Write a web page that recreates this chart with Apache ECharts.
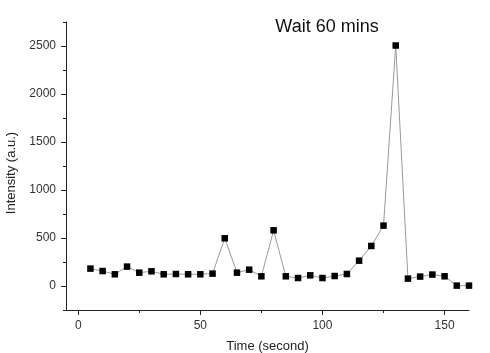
<!DOCTYPE html>
<html><head><meta charset="utf-8">
<script src="https://cdn.jsdelivr.net/npm/echarts@6/dist/echarts.min.js"></script>
<style>html,body{margin:0;padding:0;background:#fff}#c{width:490px;height:353px}</style>
</head><body><div id="c"></div>
<script>
const times = [5,10,15,20,25,30,35,40,45,50,55,60,65,70,75,80,85,90,95,100,105,110,115,120,125,130,135,140,145,150,155,160];
const intensity = [181,156,122,202,139,153,122,125,122,122,129,497,139,170,101,580,101,83,111,83,104,125,264,417,629,2505,77,98,119,101,4,4];
const xMajorTicks = [0,50,100,150];
const xMinorTicks = [25,75,125];
const yMajorTicks = [0,500,1000,1500,2000,2500];
const yMinorTicks = [-250,250,750,1250,1750,2250,2750];
const titleText = 'Wait 60 mins';
const xName = 'Time (second)';
const yName = 'Intensity (a.u.)';

const chart = echarts.init(document.getElementById('c'), null, {renderer:'canvas'});
const font = 'Liberation Sans, Arial, sans-serif';
const axisColor = '#222';
const X = [-5, 160], Y = [-250, 2750];
chart.setOption({
  animation:false,
  title:{text:titleText, left:322, top:13, textAlign:'center',
    textStyle:{fontFamily:font, fontSize:18, fontWeight:'normal', color:'#111'}},
  grid:{left:66, right:21, top:22, bottom:43, outerBoundsMode:'none', containLabel:false},
  xAxis:[{type:'value', min:X[0], max:X[1],
    name:xName, nameLocation:'middle', nameGap:30,
    nameTextStyle:{fontFamily:font, fontSize:13, color:'#222'},
    axisLine:{onZero:false, lineStyle:{color:axisColor, width:1}},
    axisTick:{show:true, length:5, customValues:xMajorTicks, lineStyle:{color:axisColor}},
    splitLine:{show:false},
    axisLabel:{fontFamily:font, fontSize:12, color:'#333', margin:10, customValues:xMajorTicks,
      formatter:v => String(v)}},
   {type:'value', min:X[0], max:X[1], position:'bottom',
    axisLine:{show:false, onZero:false},
    axisTick:{show:true, length:3, customValues:xMinorTicks, lineStyle:{color:axisColor}},
    axisLabel:{show:false}, splitLine:{show:false}}],
  yAxis:[{type:'value', min:Y[0], max:Y[1],
    name:yName, nameLocation:'middle', nameGap:44, nameRotate:90,
    nameTextStyle:{fontFamily:font, fontSize:13, color:'#222', padding:[0,14,0,0]},
    axisLine:{show:true, onZero:false, lineStyle:{color:axisColor, width:1}},
    axisTick:{show:true, length:5, customValues:yMajorTicks, lineStyle:{color:axisColor}},
    splitLine:{show:false},
    axisLabel:{fontFamily:font, fontSize:12, color:'#333', margin:10, customValues:yMajorTicks,
      formatter:v => String(v)}},
   {type:'value', min:Y[0], max:Y[1], position:'left',
    axisLine:{show:false, onZero:false},
    axisTick:{show:true, length:3, customValues:yMinorTicks, lineStyle:{color:axisColor}},
    axisLabel:{show:false}, splitLine:{show:false}}],
  series:[{type:'line', data:times.map((t,i)=>[t,intensity[i]]),
    symbol:'rect', symbolSize:6.5, showAllSymbol:true,
    itemStyle:{color:'#000'},
    lineStyle:{color:'#999', width:1}}]
});
</script></body></html>
